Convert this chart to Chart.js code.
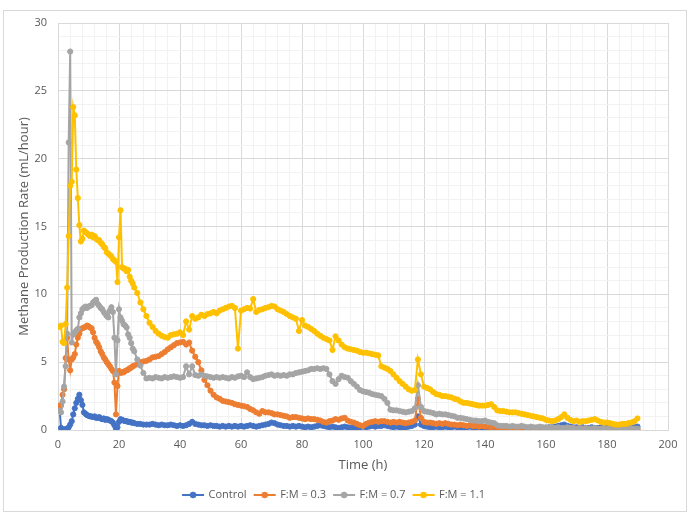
<!DOCTYPE html>
<html>
<head>
<meta charset="utf-8">
<script src="https://cdn.jsdelivr.net/npm/chart.js@4.4.1/dist/chart.umd.min.js"></script>
<style>
  html, body { margin: 0; padding: 0; background: #fff; }
  #frame { position: absolute; left: 3px; top: 10px; width: 682px; height: 500px; border: 1px solid #d9d9d9; }
  canvas { position: absolute; left: 0; top: 0; }
</style>
</head>
<body>
<div id="frame"></div>
<canvas id="chart" width="690" height="522"></canvas>
<script>
// sampling times (h)
const timeH = [
  0.5,1,1.5,2,2.5,3,3.5,4,4.5,5,5.5,6,6.5,7,7.5,8,8.5,9,9.5,10,
  10.5,11,11.5,12,12.5,13,13.5,14,14.5,15,15.5,16,16.5,17,17.5,18,18.5,19,19.5,20,
  20.5,21,21.5,22,22.5,23,23.5,24,24.5,25,
  26,27,28,29,30,31,32,33,34,35,36,37,38,39,40,41,42,43,44,45,
  46,47,48,49,50,51,52,53,54,55,56,57,58,59,60,61,62,63,64,65,
  66,67,68,69,70,71,72,73,74,75,76,77,78,79,80,81,82,83,84,85,
  86,87,88,89,90,91,92,93,94,95,96,97,98,99,100,101,102,103,104,105,
  106,107,108,109,110,111,112,113,114,115,116,117,118,119,120,121,122,123,124,125,
  126,127,128,129,130,131,132,133,134,135,136,137,138,139,140,141,142,143,144,145,
  146,147,148,149,150,151,152,153,154,155,156,157,158,159,160,161,162,163,164,165,
  166,167,168,169,170,171,172,173,174,175,176,177,178,179,180,181,182,183,184,185,
  186,187,188,189,190
];

// methane production rate (mL/hour)
const control = [
  1.6,0.15,0.05,0.05,0.05,0.1,0.2,0.4,0.65,1.15,
  1.6,2.0,2.3,2.6,2.2,1.85,1.3,1.2,1.1,1.05,
  1.0,1.0,0.95,1.0,0.9,0.9,0.95,0.85,0.8,0.85,
  0.75,0.8,0.75,0.7,0.65,0.55,0.35,0.1,0.2,0.6,
  0.8,0.75,0.7,0.65,0.65,0.6,0.6,0.55,0.55,0.5,
  0.45,0.45,0.4,0.4,0.4,0.45,0.4,0.35,0.4,0.35,
  0.35,0.4,0.35,0.3,0.35,0.3,0.35,0.45,0.6,0.45,
  0.4,0.35,0.35,0.3,0.35,0.3,0.3,0.25,0.3,0.25,
  0.3,0.25,0.3,0.25,0.3,0.25,0.3,0.35,0.3,0.25,
  0.3,0.35,0.4,0.45,0.55,0.5,0.4,0.35,0.3,0.3,
  0.25,0.3,0.25,0.3,0.25,0.2,0.25,0.2,0.25,0.3,
  0.35,0.3,0.25,0.2,0.25,0.2,0.15,0.2,0.25,0.2,
  0.15,0.2,0.15,0.2,0.25,0.2,0.25,0.3,0.25,0.3,
  0.3,0.35,0.3,0.25,0.2,0.25,0.2,0.15,0.2,0.25,
  0.3,0.4,1.0,0.4,0.3,0.25,0.2,0.2,0.25,0.2,
  0.2,0.25,0.2,0.2,0.25,0.2,0.2,0.15,0.2,0.25,
  0.2,0.15,0.2,0.15,0.2,0.15,0.15,0.2,0.15,0.15,
  0.1,0.15,0.1,0.15,0.1,0.1,0.15,0.1,0.1,0.15,
  0.1,0.15,0.1,0.15,0.15,0.2,0.2,0.25,0.3,0.35,
  0.4,0.3,0.25,0.2,0.2,0.15,0.2,0.15,0.15,0.2,
  0.15,0.15,0.2,0.15,0.15,0.2,0.15,0.15,0.2,0.15,
  0.2,0.15,0.2,0.2,0.25
];
const fm03 = [
  1.8,1.8,2.6,3.0,5.3,6.8,5.2,4.4,5.2,5.35,
  5.6,6.3,6.8,7.1,7.45,7.5,7.55,7.6,7.7,7.65,
  7.55,7.5,7.2,6.8,6.5,6.35,6.1,5.8,5.6,5.35,
  5.2,5.0,4.85,4.7,4.5,4.35,3.5,1.15,3.25,4.35,
  4.2,4.25,4.25,4.35,4.4,4.45,4.55,4.6,4.7,4.75,
  4.85,5.0,5.05,5.1,5.2,5.35,5.4,5.45,5.6,5.75,
  5.95,6.1,6.25,6.4,6.45,6.5,6.3,6.45,5.85,5.4,
  5.0,4.4,3.7,3.3,2.9,2.6,2.4,2.3,2.15,2.1,
  2.05,2.0,1.9,1.85,1.8,1.75,1.7,1.55,1.45,1.3,
  1.2,1.4,1.3,1.3,1.25,1.15,1.15,1.1,1.05,1.0,
  0.9,0.95,0.95,0.9,0.85,0.8,0.85,0.8,0.8,0.75,
  0.7,0.6,0.55,0.65,0.7,0.8,0.75,0.85,0.9,0.7,
  0.6,0.55,0.45,0.35,0.3,0.45,0.55,0.6,0.65,0.6,
  0.65,0.65,0.6,0.55,0.6,0.55,0.6,0.55,0.5,0.55,
  0.6,0.7,2.3,0.9,0.6,0.55,0.55,0.5,0.45,0.5,
  0.45,0.5,0.45,0.4,0.4,0.35,0.4,0.35,0.3,0.35,
  0.3,0.3,0.25,0.3,0.25,0.25,0.2,0.25,0.2,0.2,
  0.15,0.15,0.15,0.1,0.1,0.1,0.05,0.1,0.05,0.05,
  0.1,0.05,0.05,0.05,0.1,0.05,0.05,0.05,0.1,0.05,
  0.05,0.05,0.05,0.1,0.05,0.05,0.05,0.05,0.05,0.1,
  0.05,0.05,0.05,0.05,0.05,0.05,0.05,0.1,0.05,0.05,
  0.05,0.05,0.05,0.05,0.05
];
const fm07 = [
  1.4,1.3,2.1,3.2,4.7,7.1,21.2,27.9,6.45,7.05,
  7.2,7.35,7.45,8.3,8.6,8.9,9.0,9.1,9.0,9.1,
  9.15,9.2,9.4,9.5,9.6,9.3,9.15,9.0,8.9,8.7,
  8.55,8.4,8.3,8.8,9.05,8.7,6.8,4.1,6.6,8.9,
  8.3,8.05,7.8,7.7,7.55,7.05,6.8,6.4,6.0,5.8,
  5.2,4.75,4.2,3.8,3.85,3.8,3.9,3.85,3.8,3.9,
  3.85,3.9,3.95,3.9,3.85,3.9,4.7,4.1,4.7,4.05,
  4.0,4.1,4.0,3.95,3.9,3.85,3.9,3.85,3.9,3.85,
  3.8,3.9,3.85,3.95,4.0,3.9,4.25,3.9,3.75,3.8,
  3.85,3.9,4.0,4.05,4.1,4.0,4.05,4.0,4.05,4.0,
  4.1,4.1,4.2,4.25,4.3,4.35,4.4,4.5,4.5,4.55,
  4.5,4.55,4.5,4.1,3.6,3.4,3.75,4.0,3.9,3.85,
  3.6,3.4,3.2,2.95,2.85,2.8,2.75,2.65,2.6,2.55,
  2.5,2.3,2.0,1.5,1.45,1.45,1.4,1.35,1.3,1.35,
  1.4,1.6,3.3,1.7,1.4,1.35,1.3,1.25,1.15,1.2,
  1.15,1.15,1.1,1.05,1.0,0.9,0.9,0.85,0.8,0.75,
  0.7,0.7,0.65,0.65,0.7,0.6,0.55,0.5,0.35,0.3,
  0.3,0.3,0.25,0.3,0.25,0.25,0.3,0.25,0.2,0.25,
  0.2,0.2,0.25,0.2,0.2,0.15,0.2,0.15,0.2,0.15,
  0.15,0.2,0.15,0.15,0.1,0.15,0.1,0.15,0.1,0.1,
  0.15,0.1,0.1,0.15,0.1,0.1,0.15,0.1,0.1,0.1,
  0.15,0.1,0.1,0.1,0.1
];
const fm11 = [
  7.6,7.7,6.5,6.4,7.8,10.5,14.3,18.0,18.3,23.8,
  23.2,19.2,17.1,15.1,13.9,14.1,14.7,14.6,14.5,14.4,
  14.3,14.4,14.2,14.3,14.1,14.0,14.0,13.8,13.7,13.5,
  13.4,13.1,13.0,12.9,12.8,12.6,12.5,12.4,10.9,14.2,
  16.2,12.0,11.9,11.9,11.7,11.8,11.3,11.0,10.8,10.5,
  10.1,9.4,8.9,8.4,7.9,7.6,7.3,7.1,6.95,6.85,
  6.8,7.0,7.05,7.1,7.2,7.0,8.0,7.4,8.4,8.2,
  8.3,8.5,8.4,8.55,8.6,8.7,8.6,8.8,8.9,9.0,
  9.1,9.15,9.0,6.0,8.8,8.9,9.0,8.95,9.65,8.7,
  8.85,8.9,9.0,9.05,9.15,9.1,8.9,8.8,8.7,8.55,
  8.4,8.3,8.2,7.3,8.1,7.7,7.6,7.45,7.3,7.1,
  6.95,6.8,6.7,6.6,5.9,6.9,6.6,6.3,6.1,6.0,
  5.95,5.9,5.85,5.75,5.7,5.7,5.65,5.6,5.55,5.5,
  4.7,4.6,4.5,4.35,4.1,3.85,3.6,3.4,3.2,3.0,
  2.9,2.95,5.2,4.1,3.2,3.1,3.0,2.8,2.65,2.6,
  2.5,2.5,2.45,2.4,2.3,2.25,2.1,2.0,2.0,1.95,
  1.9,1.85,1.8,1.8,1.8,1.85,1.9,1.7,1.45,1.4,
  1.4,1.35,1.3,1.3,1.3,1.25,1.2,1.15,1.1,1.05,
  1.0,0.95,0.9,0.85,0.75,0.7,0.65,0.7,0.8,0.95,
  1.15,0.9,0.75,0.65,0.7,0.6,0.65,0.65,0.7,0.75,
  0.8,0.7,0.6,0.55,0.55,0.5,0.45,0.4,0.4,0.45,
  0.45,0.5,0.55,0.65,0.85
];

const seriesNames = ['Control', 'F:M = 0.3', 'F:M = 0.7', 'F:M = 1.1'];
const seriesValues = [control, fm03, fm07, fm11];
const colors = ['#4472C4', '#ED7D31', '#A5A5A5', '#FFC000'];

const textColor = '#595959';
const font = 'Open Sans';

// little line-with-dot icon for the legend, like Excel
function legendIcon(color) {
  const c = document.createElement('canvas');
  c.width = 24; c.height = 8;
  const g = c.getContext('2d');
  g.strokeStyle = color; g.lineWidth = 2;
  g.beginPath(); g.moveTo(1, 4); g.lineTo(23, 4); g.stroke();
  g.fillStyle = color;
  g.beginPath(); g.arc(12, 4, 3.2, 0, Math.PI * 2); g.fill();
  return c;
}
const icons = colors.map(legendIcon);

const datasets = seriesNames.map((name, i) => ({
  label: name,
  data: timeH.map((t, j) => ({ x: t, y: seriesValues[i][j] })),
  borderColor: colors[i],
  backgroundColor: colors[i],
  showLine: true,
  borderWidth: 2,
  pointRadius: 2.6,
  pointBorderWidth: 1,
  pointHoverRadius: 2.6,
  order: seriesNames.length - i
}));

const gridColor = (major) => (ctx) => (ctx.tick && ctx.tick.value % major === 0) ? '#D9D9D9' : '#F2F2F2';

new Chart(document.getElementById('chart'), {
  type: 'scatter',
  data: { datasets },
  options: {
    responsive: false,
    animation: false,
    events: [],
    layout: { padding: { left: 0, right: 22, top: 23, bottom: 11.5 } },
    scales: {
      x: {
        type: 'linear', min: 0, max: 200,
        afterFit: (s) => { s.height = 51.5; },
        ticks: {
          stepSize: 4, autoSkip: false, maxRotation: 0, padding: 8,
          color: textColor, font: { family: font, size: 11 },
          callback: (v) => (v % 20 === 0 ? v : '')
        },
        grid: { color: gridColor(20), drawTicks: false },
        border: { color: '#D9D9D9' },
        title: {
          display: true, text: 'Time (h)', color: textColor,
          font: { family: font, size: 13 }, padding: { top: 0, bottom: 8.7 }
        }
      },
      y: {
        type: 'linear', min: 0, max: 30,
        afterFit: (s) => { s.width = 58; },
        ticks: {
          stepSize: 1, autoSkip: false, padding: 11,
          color: textColor, font: { family: font, size: 11 },
          callback: (v) => (v % 5 === 0 ? v : '')
        },
        grid: { color: gridColor(5), drawTicks: false },
        border: { color: '#D9D9D9' },
        title: {
          display: true, text: 'Methane Production Rate (mL/hour)', color: textColor,
          font: { family: font, size: 13 }, padding: { top: 16, bottom: 0 }
        }
      }
    },
    plugins: {
      tooltip: { enabled: false },
      legend: {
        position: 'bottom',
        labels: {
          usePointStyle: true, pointStyleWidth: 20, padding: 8,
          color: textColor, font: { family: font, size: 11 },
          generateLabels: (chart) => chart.data.datasets.map((ds, i) => ({
            text: ds.label, fillStyle: ds.borderColor, strokeStyle: ds.borderColor,
            lineWidth: 0, pointStyle: icons[i], hidden: false, datasetIndex: i,
            fontColor: textColor
          }))
        }
      }
    }
  }
});
</script>
</body>
</html>
